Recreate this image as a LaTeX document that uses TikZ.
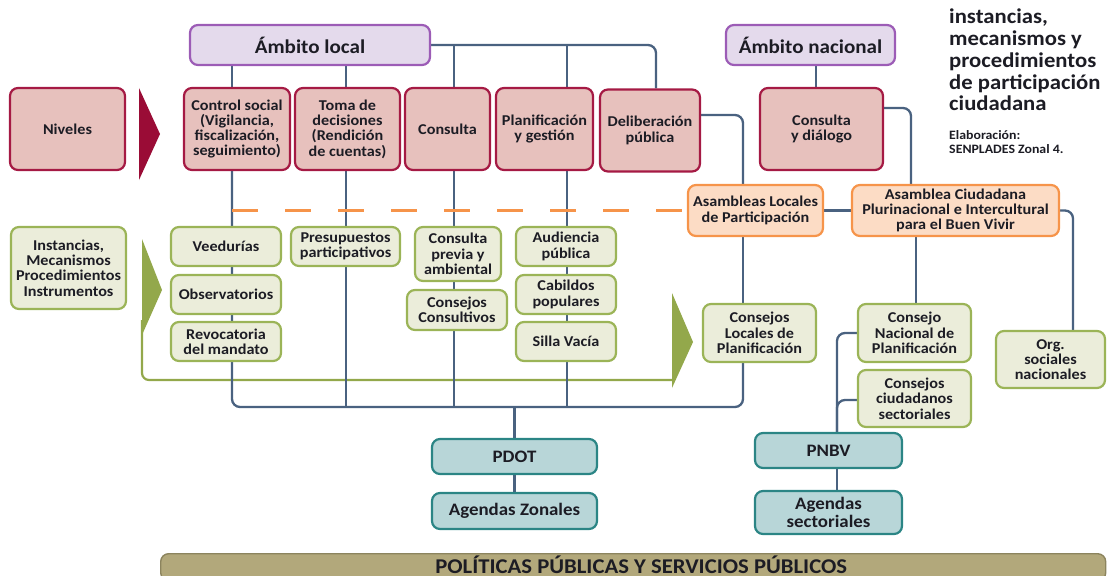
\documentclass[tikz,border=0pt]{standalone}
\usepackage{fontspec}
\setmainfont{Carlito}[FakeStretch=1.08]
\definecolor{linecol}{HTML}{4A6280}
\definecolor{txtcol}{HTML}{1C1C24}
\definecolor{ambfill}{HTML}{E4DAEC}
\definecolor{ambdraw}{HTML}{9C5CB6}
\definecolor{nivfill}{HTML}{E7C1BD}
\definecolor{nivdraw}{HTML}{A51A44}
\definecolor{rojo}{HTML}{9A0C36}
\definecolor{insfill}{HTML}{EBEDDA}
\definecolor{insdraw}{HTML}{9BB457}
\definecolor{verde}{HTML}{93A84B}
\definecolor{asafill}{HTML}{FCDCC5}
\definecolor{asadraw}{HTML}{F6944A}
\definecolor{plafill}{HTML}{B8D6D8}
\definecolor{pladraw}{HTML}{2B8585}
\definecolor{polfill}{HTML}{B2A87B}
\definecolor{poldraw}{HTML}{8C845E}
\pgfdeclarelayer{bg}
\pgfsetlayers{bg,main}

\begin{document}
\begin{tikzpicture}[x=1pt,y=-1pt]
\tikzset{link/.style = {draw=linecol, line width=2.3pt, rounded corners=8pt}}
\tikzset{dashlink/.style = {draw=asadraw, line width=2.2pt, dash pattern=on 26pt off 27pt}}
\tikzset{greenlink/.style = {draw=verde, line width=2.2pt, rounded corners=7pt}}
\tikzset{box/.style = {shape=rectangle, rounded corners=8pt, line width=2.2pt, align=center, inner sep=0pt, text=txtcol, font=\bfseries\fontsize{15}{15.3}\selectfont}}
\tikzset{ambito/.style = {box, draw=ambdraw, fill=ambfill, font=\bfseries\fontsize{19.5}{20}\selectfont}}
\tikzset{nivel/.style = {box, draw=nivdraw, fill=nivfill}}
\tikzset{instancia/.style = {box, draw=insdraw, fill=insfill}}
\tikzset{asamblea/.style = {box, draw=asadraw, fill=asafill}}
\tikzset{plan/.style = {box, draw=pladraw, fill=plafill, font=\bfseries\fontsize{17.5}{18}\selectfont}}
\useasboundingbox (0,0) rectangle (1107,575);
\clip (0,0) rectangle (1107,575);

\node[ambito, minimum width=240, minimum height=40](local) at (310,45) {Ámbito local};
\node[ambito, minimum width=169, minimum height=40](nacional) at (810.5,45) {Ámbito nacional};

\node[nivel, minimum width=115, minimum height=82](niveles) at (67.5,129) {Niveles};
\node[nivel, minimum width=106, minimum height=82](ctrl) at (237,129) {Control social\\(Vigilancia,\\fiscalización,\\seguimiento)};
\node[nivel, minimum width=105, minimum height=82](toma) at (347.5,129) {Toma de\\decisiones\\(Rendición\\de cuentas)};
\node[nivel, minimum width=85, minimum height=82](consulta) at (447.5,129) {Consulta};
\node[nivel, minimum width=97, minimum height=82](planif) at (544.5,129) {Planificación\\y gestión};
\node[nivel, minimum width=100, minimum height=82](delib) at (650,130.5) {Deliberación\\pública};
\node[nivel, minimum width=123, minimum height=82](dialogo) at (821.5,129) {Consulta\\y diálogo};

\node[asamblea, minimum width=135, minimum height=51](asamL) at (755.5,210.5) {Asambleas Locales\\de Participación};
\node[asamblea, minimum width=207, minimum height=51](asamC) at (955.5,210.5) {Asamblea Ciudadana\\Plurinacional e Intercultural\\para el Buen Vivir};

\node[instancia, minimum width=115, minimum height=82](inst) at (68.5,268) {Instancias,\\Mecanismos\\Procedimientos\\Instrumentos};
\node[instancia, minimum width=110, minimum height=39](veed) at (226,246.5) {Veedurías};
\node[instancia, minimum width=110, minimum height=39](obs) at (226,294.5) {Observatorios};
\node[instancia, minimum width=110, minimum height=39](revoc) at (226,341.5) {Revocatoria\\del mandato};
\node[instancia, minimum width=109, minimum height=39](presup) at (345.5,246.5) {Presupuestos\\participativos};
\node[instancia, minimum width=86, minimum height=54](cprev) at (458,254) {Consulta\\previa y\\ambiental};
\node[instancia, minimum width=100, minimum height=40](ccons) at (457,310) {Consejos\\Consultivos};
\node[instancia, minimum width=100, minimum height=39](aud) at (566,246.5) {Audiencia\\pública};
\node[instancia, minimum width=100, minimum height=39](cab) at (566,294.5) {Cabildos\\populares};
\node[instancia, minimum width=100, minimum height=39](silla) at (566,341.5) {Silla Vacía};
\node[instancia, minimum width=113, minimum height=58](clp) at (759.5,333) {Consejos\\Locales de\\Planificación};
\node[instancia, minimum width=113, minimum height=58](cnp) at (914.5,333) {Consejo\\Nacional de\\Planificación};
\node[instancia, minimum width=113, minimum height=57](ccs) at (914.5,398.5) {Consejos\\ciudadanos\\sectoriales};
\node[instancia, minimum width=109, minimum height=57](org) at (1050.5,359.5) {Org.\\sociales\\nacionales};

\node[plan, minimum width=165, minimum height=35](pdot) at (514.5,456.5) {PDOT};
\node[plan, minimum width=165, minimum height=36](agz) at (514.5,511) {Agendas Zonales};
\node[plan, minimum width=147, minimum height=35](pnbv) at (828.5,450.5) {PNBV};
\node[plan, minimum width=147, minimum height=43](ags) at (828.5,512.5) {Agendas\\sectoriales};

\node[shape=rectangle, rounded corners=8pt, line width=1.4pt, draw=poldraw, fill=polfill, minimum width=945, minimum height=27, inner sep=0pt, text height=12pt, text depth=0pt, anchor=north west, text=txtcol, font=\bfseries\fontsize{21}{22}\selectfont](pol) at (160,553) {\hspace*{16pt}POLÍTICAS PÚBLICAS Y SERVICIOS PÚBLICOS};

\node[anchor=north west, align=left, inner sep=0pt, text=txtcol, font=\bfseries\fontsize{21}{21.7}\selectfont](tit) at (949,9) {instancias,\\mecanismos y\\procedimientos\\de participación\\ciudadana};
\node[anchor=north west, align=left, inner sep=0pt, text=txtcol, font=\bfseries\fontsize{12.8}{14}\selectfont](elab) at (949,130) {Elaboración:\\SENPLADES Zonal 4.};

\fill[rojo] (139,88) -- (160,134) -- (139,180) -- cycle;
\fill[verde] (142,239) -- (162,290) -- (142,335) -- cycle;
\fill[verde] (672,293) -- (693,342) -- (672,388) -- cycle;

\begin{pgfonlayer}{bg}
\draw[greenlink] (142,320) -- (142,380) -- (673,380);
\draw[link] (local.east) -| ([xshift=6]delib.north);
\draw[link] ([xshift=-78]local.south) -- ([xshift=-5]ctrl.north);
\draw[link] ([xshift=36]local.south) -- ([xshift=-1.5]toma.north);
\draw[link] ([xshift=6.5]consulta.north |- local.east) -- ([xshift=6.5]consulta.north);
\draw[link] ([xshift=22.5]planif.north |- local.east) -- ([xshift=22.5]planif.north);
\draw[link] ([xshift=5.5]nacional.south) -- ([xshift=-5.5]dialogo.north);
\draw[link] ([yshift=15.5]delib.east) -| ([xshift=-12.5]asamL.north);
\draw[link] ([yshift=21]dialogo.east) -| ([xshift=-44.5]asamC.north);
\draw[link] (asamL.east) -- (asamC.west);
\draw[link] (asamC.east) -| ([xshift=22.5]org.north);
\draw[link] ([xshift=-39.5]asamC.south) -- ([xshift=1.5]cnp.north);
\draw[link] (cnp.west) -| ([xshift=8.5]pnbv.north);
\draw[link] ([xshift=8.5]pnbv.north) |- ([yshift=-1.5]ccs.west);
\draw[link] ([xshift=8.5]pnbv.south) -- ([xshift=8.5]ags.north);
\coordinate (bl) at (232,407);
\coordinate (br) at (743,407);
\draw[link] ([xshift=-5]ctrl.south) -- (bl) -- (br) -- ([xshift=-16.5]clp.south);
\draw[link] ([xshift=-16.5]clp.north) -- ([xshift=-12.5]asamL.south);
\draw[link] ([xshift=-1.5]toma.south) -- ([xshift=-1.5]toma.south |- bl);
\draw[link] ([xshift=6.5]consulta.south) -- ([xshift=6.5]consulta.south |- bl);
\draw[link] ([xshift=22.5]planif.south) -- ([xshift=22.5]planif.south |- bl);
\draw[link] (pdot.north |- bl) -- (pdot.north);
\draw[link] (pdot.south) -- (agz.north);
\draw[dashlink] ([xshift=-5]ctrl.south |- asamL.west) -- (asamL.west);
\end{pgfonlayer}
\end{tikzpicture}
\end{document}
